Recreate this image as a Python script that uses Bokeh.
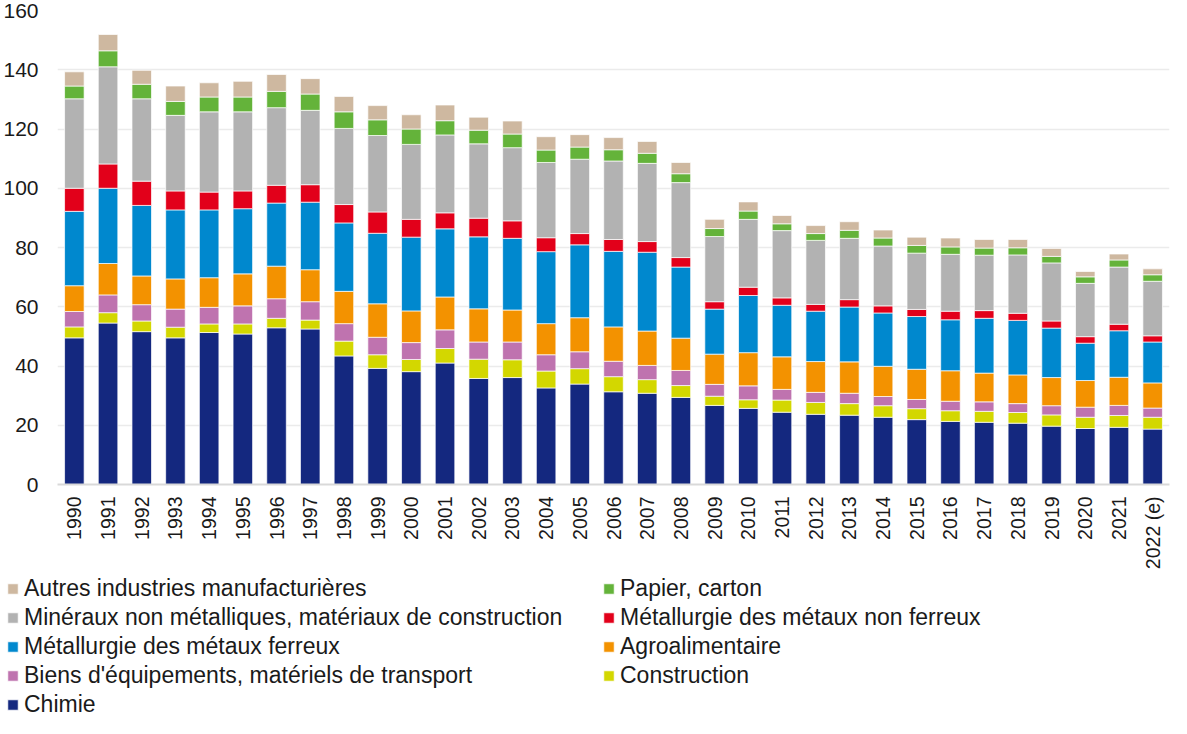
from bokeh.plotting import figure
from bokeh.layouts import column
from bokeh.models import ColumnDataSource, FactorRange, Range1d, Legend, LegendItem, FixedTicker
from bokeh.embed import file_html
from bokeh.resources import INLINE

years = [str(y) for y in range(1990, 2022)] + ["2022\u00a0(e)"]

chimie = [49.5, 54.5, 51.6, 49.5, 51.3, 50.8, 52.9, 52.5, 43.4, 39.2, 38.1, 41.0, 35.8, 36.1, 32.6, 33.9, 31.3,
          30.8, 29.4, 26.7, 25.7, 24.4, 23.7, 23.4, 22.7, 21.9, 21.3, 21.0, 20.7, 19.7, 18.9, 19.3, 18.7]
construction = [3.7, 3.5, 3.6, 3.6, 2.9, 3.4, 3.2, 3.0, 5.0, 4.6, 4.1, 4.9, 6.5, 6.0, 5.7, 5.2, 5.1,
                4.6, 4.0, 3.1, 2.9, 4.1, 4.0, 3.9, 3.9, 3.7, 3.6, 3.7, 3.6, 3.8, 3.8, 4.0, 4.0]
biens = [5.2, 6.0, 5.5, 6.1, 5.6, 6.1, 6.6, 6.2, 5.9, 5.9, 5.7, 6.3, 5.8, 6.0, 5.5, 5.7, 5.2,
         4.8, 5.1, 4.0, 4.7, 3.6, 3.4, 3.5, 3.1, 3.1, 3.2, 3.2, 3.0, 3.1, 3.4, 3.4, 3.1]
agro = [8.7, 10.6, 9.7, 10.2, 10.0, 10.8, 11.0, 10.8, 10.9, 11.3, 10.7, 11.1, 11.2, 10.8, 10.5, 11.5, 11.6,
        11.6, 10.9, 10.2, 11.2, 11.0, 10.4, 10.6, 10.2, 10.2, 10.3, 9.7, 9.7, 9.5, 9.0, 9.5, 8.5]
ferreux = [25.1, 25.4, 23.8, 23.3, 22.9, 22.0, 21.3, 22.8, 23.1, 23.8, 24.9, 23.0, 24.3, 24.2, 24.3, 24.6, 25.5,
           26.6, 24.0, 15.2, 19.3, 17.4, 17.0, 18.5, 18.0, 17.8, 17.2, 18.5, 18.4, 16.7, 12.6, 15.7, 13.8]
non_ferreux = [7.8, 8.2, 8.2, 6.4, 6.0, 6.0, 6.0, 5.9, 6.2, 7.2, 6.0, 5.4, 6.3, 5.9, 4.7, 3.8, 4.0,
               3.6, 3.2, 2.5, 2.8, 2.5, 2.3, 2.5, 2.4, 2.4, 2.9, 2.6, 2.4, 2.4, 2.2, 2.2, 2.1]
mineraux = [30.2, 32.8, 27.8, 25.5, 27.1, 26.7, 26.2, 25.1, 25.7, 25.8, 25.3, 26.3, 25.1, 24.7, 25.4, 25.1, 26.5,
            26.4, 25.3, 22.0, 22.9, 22.7, 21.6, 20.7, 20.2, 19.0, 19.2, 18.7, 19.7, 19.6, 18.0, 19.3, 18.4]
papier = [4.3, 5.4, 4.9, 4.7, 5.0, 5.0, 5.5, 5.5, 5.6, 5.3, 5.2, 4.8, 4.6, 4.6, 4.2, 4.1, 3.8,
          3.4, 3.0, 2.7, 2.8, 2.3, 2.3, 2.7, 2.7, 2.6, 2.5, 2.4, 2.4, 2.2, 2.2, 2.4, 2.2]
autres = [4.8, 5.5, 4.7, 5.2, 4.8, 5.3, 5.7, 5.2, 5.2, 4.8, 4.8, 5.3, 4.4, 4.4, 4.5, 4.2, 4.1,
          4.0, 3.8, 3.1, 3.1, 2.8, 2.7, 2.9, 2.7, 2.8, 3.0, 2.9, 2.8, 2.7, 1.8, 2.0, 2.0]

keys = ["chimie", "construction", "biens", "agro", "ferreux", "non_ferreux", "mineraux", "papier", "autres"]
labels = {
    "chimie": "Chimie",
    "construction": "Construction",
    "biens": "Biens d'équipements, matériels de transport",
    "agro": "Agroalimentaire",
    "ferreux": "Métallurgie des métaux ferreux",
    "non_ferreux": "Métallurgie des métaux non ferreux",
    "mineraux": "Minéraux non métalliques, matériaux de construction",
    "papier": "Papier, carton",
    "autres": "Autres industries manufacturières",
}
colors = ["#14287F", "#D3D700", "#BF73AF", "#F39200", "#0088CE", "#E2001A", "#B2B2B2", "#64B33A", "#CEB8A0"]
legend_order = ["autres", "papier", "mineraux", "non_ferreux", "ferreux", "agro", "biens", "construction", "chimie"]

source = ColumnDataSource(dict(years=years, chimie=chimie, construction=construction, biens=biens, agro=agro,
                               ferreux=ferreux, non_ferreux=non_ferreux, mineraux=mineraux, papier=papier,
                               autres=autres))

FONT = "Liberation Sans"

# ---- main chart ----
p = figure(x_range=FactorRange(*years), y_range=(0, 160), width=1171, height=572,
           output_backend="svg", toolbar_location=None,
           min_border_left=54, min_border_top=10, min_border_right=2, min_border_bottom=0)
p.frame_align = False
p.outline_line_color = None
p.background_fill_color = "white"

p.vbar_stack(keys, x="years", width=0.58, color=colors, source=source,
             line_color="white", line_width=0.7)

p.xgrid.grid_line_color = None
p.ygrid.grid_line_color = "#ebebeb"
p.ygrid.grid_line_width = 1.5

p.yaxis.ticker = FixedTicker(ticks=list(range(0, 161, 20)))
p.yaxis.axis_line_color = None
p.yaxis.major_tick_line_color = None
p.yaxis.minor_tick_line_color = None
p.yaxis.major_tick_out = 0
p.yaxis.major_label_standoff = 19
p.yaxis.major_label_text_font = FONT
p.yaxis.major_label_text_font_size = "21px"
p.yaxis.major_label_text_color = "#1a1a1a"

p.xaxis.axis_line_color = "#d9d9d9"
p.xaxis.axis_line_width = 2
p.xaxis.major_tick_line_color = None
p.xaxis.minor_tick_line_color = None
p.xaxis.major_tick_out = 0
p.xaxis.major_label_orientation = 1.5708
p.xaxis.major_label_standoff = 12
p.xaxis.major_label_text_font = FONT
p.xaxis.major_label_text_font_size = "19.5px"
p.xaxis.major_label_text_color = "#1a1a1a"

# ---- legend panel (hidden copies of the series, used only as legend handles) ----
p2 = figure(width=1171, height=146, output_backend="svg", toolbar_location=None,
            x_range=FactorRange(*years), y_range=Range1d(0, 160),
            x_axis_type=None, y_axis_type=None, min_border=0,
            min_border_left=0, min_border_right=0, min_border_top=0, min_border_bottom=0)
p2.frame_align = False
p2.outline_line_color = None
p2.grid.grid_line_color = None
handles = p2.vbar_stack(keys, x="years", width=0.58, color=colors, source=source,
                        line_color="white", line_width=0.7)
for r in handles:
    r.visible = False
hmap = dict(zip(keys, handles))

items = [LegendItem(label=labels[k], renderers=[hmap[k]]) for k in legend_order]
legend = Legend(items=items, location=(6, 0), orientation="horizontal", ncols=2,
                label_text_font=FONT, label_text_font_size="23px", label_text_color="#1a1a1a",
                glyph_width=13, glyph_height=13, label_standoff=5, spacing=2, padding=0, margin=0,
                label_width=576, border_line_color=None, background_fill_alpha=0,
                inactive_fill_alpha=0, click_policy="none")
p2.add_layout(legend)

layout = column(p, p2, spacing=0)
open("out.html", "w").write(file_html(layout, INLINE))
